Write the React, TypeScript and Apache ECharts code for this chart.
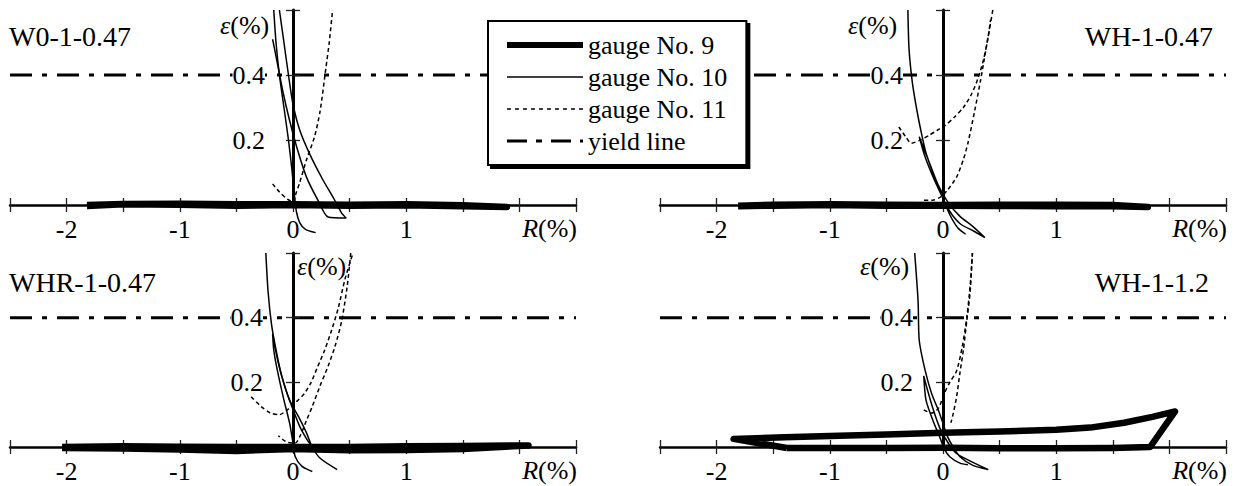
import React, { useEffect, useRef } from "react";
import * as echarts from "echarts";

// ---------- texts & scales ----------
const PANEL_NAMES = ["W0-1-0.47", "WH-1-0.47", "WHR-1-0.47", "WH-1-1.2"];
const SERIES_NAMES = ["gauge No. 9", "gauge No. 10", "gauge No. 11", "yield line"];
const R_MIN = -2.5;
const R_MAX = 2.5;
const R_STEP = 0.5;
const EPS_MIN = 0;
const EPS_MAX = 0.6;
const EPS_STEP = 0.2;
const X_LABEL_VALUES = [-2, -1, 0, 1];
const X_LABELS = ["-2", "-1", "0", "1"];
const Y_LABEL_VALUES = [0.2, 0.4];
const Y_LABELS = ["0.2", "0.4"];
const YIELD_STRAIN = 0.4;
const YIELD_R = [-2.5, 2.5];

// ---------- W0-1-0.47 ----------
const W0_G9 = [[-1.82, -0.003], [-1.5, 0.002], [-1.0, 0.001], [-0.5, -0.002], [0, 0], [0.5, -0.002], [1.0, -0.001], [1.5, -0.004], [1.89, -0.006], [1.5, -0.001], [1.0, 0.002], [0.5, 0.001], [0, 0.002], [-0.5, 0.002], [-1.0, 0.004], [-1.5, 0.003], [-1.82, 0.0]];
const W0_G10_A = [[-0.12, 0.6], [-0.08, 0.5], [-0.04, 0.4], [0.0, 0.31], [0.06, 0.23], [0.15, 0.155], [0.26, 0.08], [0.36, 0.02], [0.43, -0.025], [0.47, -0.04], [0.31, -0.037], [0.22, 0.015], [0.12, 0.085], [0.04, 0.17], [-0.03, 0.26], [-0.09, 0.35], [-0.14, 0.44], [-0.18, 0.51]];
const W0_G10_B = [[-0.17, 0.6], [-0.15, 0.5], [-0.12, 0.4], [-0.08, 0.3], [-0.04, 0.2], [-0.01, 0.11], [0.01, 0.04], [0.03, -0.02], [0.06, -0.055], [0.11, -0.075], [0.2, -0.085]];
const W0_G11 = [[-0.18, 0.065], [-0.12, 0.04], [-0.05, 0.018], [0.0, 0.01], [0.03, 0.04], [0.06, 0.07], [0.12, 0.14], [0.19, 0.21], [0.24, 0.29], [0.29, 0.42], [0.32, 0.5], [0.35, 0.6]];

// ---------- WH-1-0.47 ----------
const WH_G9 = [[-1.81, -0.004], [-1.5, -0.002], [-1, 0.0], [-0.5, -0.002], [0, -0.002], [0.5, -0.003], [1, -0.004], [1.5, -0.004], [1.81, -0.006], [1.5, 0.0], [1, 0.001], [0.5, 0.001], [0, 0.0], [-0.5, 0.001], [-1, 0.002], [-1.5, 0.001], [-1.81, -0.002]];
const WH_G10 = [[-0.31, 0.6], [-0.3, 0.48], [-0.27, 0.375], [-0.23, 0.29], [-0.19, 0.22], [-0.15, 0.16], [-0.09, 0.1], [-0.03, 0.045], [0.02, 0.005], [0.08, -0.03], [0.16, -0.06], [0.27, -0.08], [0.37, -0.1], [0.26, -0.065], [0.15, -0.035], [0.05, 0.005], [-0.04, 0.06], [-0.12, 0.13], [-0.21, 0.21], [-0.16, 0.15], [-0.08, 0.08], [0.0, 0.02], [0.06, -0.03], [0.13, -0.07], [0.2, -0.09]];
const WH_G11_A = [[-0.39, 0.24], [-0.33, 0.21], [-0.28, 0.19], [-0.2, 0.2], [-0.12, 0.215], [-0.05, 0.23], [0.02, 0.245], [0.1, 0.27], [0.18, 0.3], [0.25, 0.34], [0.31, 0.39], [0.36, 0.45], [0.4, 0.52], [0.42, 0.57]];
const WH_G11_B = [[0.44, 0.6], [0.39, 0.5], [0.36, 0.44], [0.33, 0.38], [0.28, 0.29], [0.22, 0.19], [0.18, 0.14], [0.12, 0.086], [0.04, 0.046], [-0.02, 0.025], [-0.09, 0.015], [-0.17, 0.015]];

// ---------- WHR-1-0.47 ----------
const WHR_G9 = [[-2.04, 0.0], [-1.5, 0.002], [-1, 0.001], [-0.5, 0.0], [0, 0.0], [0.5, 0.0], [1, 0.002], [1.5, 0.003], [2.08, 0.005], [1.5, -0.006], [1, -0.009], [0.5, -0.01], [0, -0.006], [-0.5, -0.012], [-1, -0.008], [-1.5, -0.005], [-2.04, -0.003]];
const WHR_G10_A = [[-0.24, 0.6], [-0.22, 0.48], [-0.19, 0.38], [-0.15, 0.3], [-0.1, 0.22], [-0.03, 0.145], [0.05, 0.093], [0.12, 0.043], [0.17, 0.0], [0.24, -0.035], [0.39, -0.07]];
const WHR_G10_B = [[0.15, 0.01], [0.12, 0.025], [0.06, 0.063], [-0.01, 0.125], [-0.07, 0.185], [-0.13, 0.26], [-0.18, 0.35], [-0.17, 0.3], [-0.14, 0.24], [-0.08, 0.145], [-0.03, 0.074], [0.0, 0.012], [0.02, -0.03], [0.08, -0.06], [0.17, -0.076]];
const WHR_G11_A = [[-0.37, 0.155], [-0.28, 0.125], [-0.2, 0.105], [-0.12, 0.1], [-0.05, 0.115], [0.03, 0.14], [0.1, 0.165], [0.16, 0.2], [0.22, 0.25], [0.28, 0.3], [0.34, 0.36], [0.4, 0.43], [0.46, 0.52], [0.53, 0.6]];
const WHR_G11_B = [[0.51, 0.6], [0.48, 0.5], [0.43, 0.39], [0.37, 0.31], [0.31, 0.25], [0.24, 0.19], [0.17, 0.125], [0.12, 0.083], [0.06, 0.032], [0.02, 0.012], [-0.06, 0.016], [-0.13, 0.035]];

// ---------- WH-1-1.2 ----------
const WH12_G9 = [[-1.38, -0.003], [-1.6, 0.01], [-1.85, 0.025], [-1.4, 0.03], [-1, 0.034], [-0.5, 0.039], [0, 0.044], [0.5, 0.048], [1, 0.053], [1.3, 0.06], [1.6, 0.075], [1.85, 0.093], [2.05, 0.11], [1.83, 0.0], [1.5, -0.003], [1, -0.004], [0.5, -0.004], [0, -0.002], [-0.5, -0.003], [-1, -0.003], [-1.38, -0.003]];
const WH12_G10 = [[-0.25, 0.6], [-0.22, 0.45], [-0.21, 0.33], [-0.16, 0.24], [-0.1, 0.165], [-0.04, 0.113], [0.0, 0.073], [0.04, 0.032], [0.09, 0.0], [0.15, -0.03], [0.26, -0.056], [0.4, -0.07], [0.25, -0.045], [0.12, -0.02], [0.05, 0.01], [-0.03, 0.06], [-0.09, 0.12], [-0.14, 0.18], [-0.17, 0.22], [-0.15, 0.145], [-0.09, 0.083], [-0.03, 0.032], [0.01, -0.005], [0.06, -0.03], [0.15, -0.05], [0.22, -0.055]];
const WH12_G11_A = [[-0.17, 0.115], [-0.1, 0.105], [-0.04, 0.12], [0.01, 0.165], [0.06, 0.2], [0.12, 0.235], [0.17, 0.31], [0.21, 0.4], [0.24, 0.5], [0.26, 0.6]];
const WH12_G11_B = [[0.26, 0.6], [0.24, 0.48], [0.21, 0.39], [0.18, 0.3], [0.15, 0.23], [0.12, 0.155], [0.09, 0.103], [0.07, 0.075]];

const PANEL_DATA = [
  { g9: [W0_G9], g10: [W0_G10_A, W0_G10_B], g11: [W0_G11] },
  { g9: [WH_G9], g10: [WH_G10], g11: [WH_G11_A, WH_G11_B] },
  { g9: [WHR_G9], g10: [WHR_G10_A, WHR_G10_B], g11: [WHR_G11_A, WHR_G11_B] },
  { g9: [WH12_G9], g10: [WH12_G10], g11: [WH12_G11_A, WH12_G11_B] },
];

const FONT = "Liberation Serif";
const FS = 26;
const TITLE_FS = 28;

const LAYOUTS = [
  { left: 10, top: 10, width: 566, height: 195, yMargin: 28, title: { x: 9, y: 36, align: "left" }, eps: { x: 220, y: 25 }, r: { x: 577, y: 228 } },
  { left: 660, top: 10, width: 566, height: 195, yMargin: 40, title: { x: 1213, y: 36, align: "right" }, eps: { x: 848, y: 25 }, r: { x: 1227, y: 228 } },
  { left: 10, top: 253, width: 566, height: 194, yMargin: 30, title: { x: 9, y: 282, align: "left" }, eps: { x: 297, y: 266 }, r: { x: 577, y: 470 } },
  { left: 660, top: 253, width: 566, height: 194, yMargin: 30, title: { x: 1209, y: 282, align: "right" }, eps: { x: 860, y: 266 }, r: { x: 1227, y: 470 } },
];

const LINE_STYLES: any[] = [
  { color: "#000", width: 6.5, join: "round" },
  { color: "#000", width: 1.5 },
  { color: "#000", width: 1.5, type: [4, 3] },
  { color: "#000", width: 3, type: [22, 10, 5, 10] },
];
const LEGEND_STYLES: any[] = [
  { color: "#000", width: 6, type: "solid" },
  { color: "#000", width: 1.6, type: "solid" },
  { color: "#000", width: 1.5, type: [4, 4] },
  { color: "#000", width: 3, type: [20, 9, 6, 9] },
];

function pick(values: number[], labels: string[]) {
  return (v: number) => {
    const i = values.findIndex((t) => Math.abs(t - v) < 1e-6);
    return i >= 0 ? labels[i] : "";
  };
}

function buildOption() {
  const grid: any[] = [];
  const xAxis: any[] = [];
  const yAxis: any[] = [];
  const series: any[] = [];
  const graphic: any[] = [];
  const tickLine = { color: "#222", width: 1.3 };

  LAYOUTS.forEach((L, i) => {
    grid.push({ left: L.left, top: L.top, width: L.width, height: L.height, containLabel: false, outerBoundsMode: "none" });
    const xBase = { gridIndex: i, type: "value", min: R_MIN, max: R_MAX, interval: R_STEP, position: "bottom", splitLine: { show: false } };
    xAxis.push({
      ...xBase,
      axisLine: { show: true, onZero: false, lineStyle: { color: "#000", width: 2.5 } },
      axisTick: { show: true, inside: false, length: 7, lineStyle: tickLine },
      axisLabel: { show: true, margin: 11, color: "#000", fontSize: FS, fontFamily: FONT, formatter: pick(X_LABEL_VALUES, X_LABELS), showMinLabel: true, showMaxLabel: true },
    });
    xAxis.push({
      ...xBase,
      axisLine: { show: false, onZero: false },
      axisTick: { show: true, inside: true, length: 7, lineStyle: tickLine },
      axisLabel: { show: false },
    });
    const yOffset = -((0 - R_MIN) / (R_MAX - R_MIN)) * L.width;
    const yBase = { gridIndex: i, type: "value", min: EPS_MIN, max: EPS_MAX, interval: EPS_STEP, position: "left", offset: yOffset, splitLine: { show: false }, z: 2 };
    yAxis.push({
      ...yBase,
      axisLine: { show: true, onZero: false, lineStyle: { color: "#000", width: 3 } },
      axisTick: { show: true, inside: false, length: 7, lineStyle: tickLine },
      axisLabel: { show: true, margin: L.yMargin, color: "#000", fontSize: FS, fontFamily: FONT, formatter: pick(Y_LABEL_VALUES, Y_LABELS), backgroundColor: "#fff" },
    });
    yAxis.push({
      ...yBase,
      axisLine: { show: false, onZero: false },
      axisTick: { show: true, inside: true, length: 7, lineStyle: tickLine },
      axisLabel: { show: false },
    });

    const base = { type: "line", xAxisIndex: i * 2, yAxisIndex: i * 2, symbol: "none", showSymbol: false, clip: false, silent: true, animation: false };
    series.push({ ...base, name: SERIES_NAMES[3], data: YIELD_R.map((r) => [r, YIELD_STRAIN]), lineStyle: LINE_STYLES[3], z: 1 });
    const p = PANEL_DATA[i];
    p.g11.forEach((seg) => series.push({ ...base, name: SERIES_NAMES[2], data: seg, smooth: 0.25, lineStyle: LINE_STYLES[2], z: 3 }));
    p.g10.forEach((seg) => series.push({ ...base, name: SERIES_NAMES[1], data: seg, smooth: 0.25, lineStyle: LINE_STYLES[1], z: 3 }));
    p.g9.forEach((seg) => series.push({ ...base, name: SERIES_NAMES[0], data: seg, lineStyle: LINE_STYLES[0], z: 3 }));

    const txt = { fontSize: FS, fontFamily: FONT, fill: "#000" };
    graphic.push({
      type: "text", x: L.title.x, y: L.title.y, z: 10, silent: true,
      style: { ...txt, fontSize: TITLE_FS, text: PANEL_NAMES[i], align: L.title.align, textAlign: L.title.align, verticalAlign: "middle", textVerticalAlign: "middle" },
    });
    graphic.push({
      type: "text", x: L.eps.x, y: L.eps.y, z: 10, silent: true,
      style: { ...txt, text: "{i|ε}(%)", rich: { i: { ...txt, fontStyle: "italic" } }, align: "left", textAlign: "left", verticalAlign: "middle", textVerticalAlign: "middle" },
    });
    graphic.push({
      type: "text", x: L.r.x, y: L.r.y, z: 10, silent: true,
      style: { ...txt, text: "{i|R}(%)", rich: { i: { ...txt, fontStyle: "italic" } }, align: "right", textAlign: "right", verticalAlign: "middle", textVerticalAlign: "middle" },
    });
  });

  return {
    animation: false,
    backgroundColor: "#fff",
    textStyle: { fontFamily: FONT },
    grid,
    xAxis,
    yAxis,
    series,
    graphic,
    legend: {
      orient: "vertical",
      left: 488,
      top: 21,
      padding: [11, 19, 11, 16],
      itemGap: 6,
      itemWidth: 76,
      itemHeight: 14,
      backgroundColor: "#fff",
      borderColor: "#000",
      borderWidth: 2,
      borderRadius: 0,
      shadowColor: "#000",
      shadowOffsetX: 3,
      shadowOffsetY: 3,
      shadowBlur: 0,
      selectedMode: false,
      itemStyle: { opacity: 0 },
      textStyle: { fontSize: FS, fontFamily: FONT, color: "#000" },
      data: SERIES_NAMES.map((n, k) => ({ name: n, lineStyle: LEGEND_STYLES[k], itemStyle: { opacity: 0 } })),
      z: 4,
    },
  };
}

export default function App() {
  const ref = useRef<HTMLDivElement>(null);
  useEffect(() => {
    if (!ref.current) return;
    const chart = echarts.init(ref.current, undefined, { renderer: "svg" });
    chart.setOption(buildOption() as any);
    return () => chart.dispose();
  }, []);
  return <div ref={ref} style={{ position: "fixed", left: 0, top: 0, width: 1236, height: 486, background: "#fff" }} />;
}
